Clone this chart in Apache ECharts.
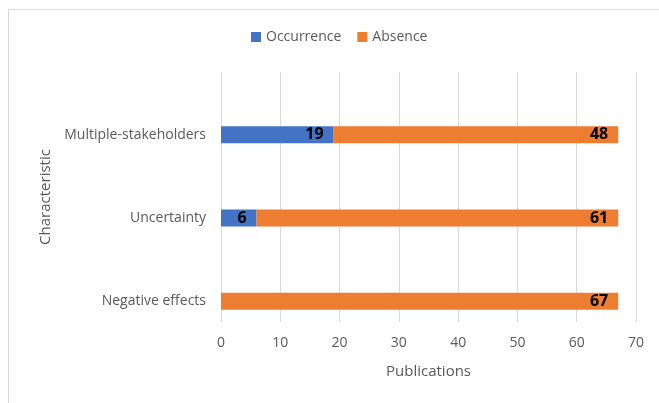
<!DOCTYPE html>
<html lang="en">
<head>
    <meta charset="UTF-8">
    <title>Characteristic publications</title>
    <style>
        html, body { margin: 0; padding: 0; background: #fff; }
        #chart { width: 659px; height: 403px; }
    </style>
</head>
<body>
    <div id="chart"></div>
<script src="https://cdn.jsdelivr.net/npm/echarts@6/dist/echarts.min.js"></script>
<script type="text/javascript">
    // data, bottom to top
    const categories = ['Negative effects', 'Uncertainty', 'Multiple-stakeholders'];
    const occurrence = [0, 6, 19];
    const absence = [67, 61, 48];
    const xTicks = [0, 10, 20, 30, 40, 50, 60, 70];

    const grey = '#595959';
    const font = 'Open Sans, Noto Sans, sans-serif';

    const valLabel = {
        show: true,
        position: 'insideRight',
        distance: 10,
        color: '#000',
        fontWeight: 'bold',
        fontSize: 16,
        fontFamily: font,
        formatter: p => p.value > 0 ? p.value : ''
    };

    let chart = echarts.init(document.getElementById('chart'));
    chart.setOption({
        backgroundColor: '#fff',
        animation: false,
        graphic: [{
            type: 'rect',
            shape: { x: 8.5, y: 9.5, width: 700, height: 450 },
            style: { fill: 'none', stroke: '#d9d9d9', lineWidth: 1 },
            silent: true
        }],
        legend: {
            top: 25,
            left: 246,
            itemWidth: 10,
            itemHeight: 10,
            itemGap: 16,
            icon: 'rect',
            textStyle: { color: grey, fontSize: 14, fontFamily: font },
            data: ['Occurrence', 'Absence']
        },
        grid: [
            // grid holding the gridlines and x axis
            { left: 221, right: 23, top: 72, bottom: 81 },
            // grid holding the bars
            { left: 221, right: 23, top: 93, bottom: 60 }
        ],
        xAxis: [{
            gridIndex: 0,
            type: 'value',
            min: xTicks[0],
            max: xTicks[xTicks.length - 1],
            interval: 10,
            name: 'Publications',
            nameLocation: 'middle',
            nameGap: 42,
            nameTextStyle: { color: grey, fontSize: 15, fontFamily: font },
            axisLine: { show: false },
            axisTick: { show: false },
            axisLabel: { color: grey, fontSize: 14, fontFamily: font, margin: 14 },
            splitLine: { lineStyle: { color: '#d9d9d9', width: 1 } }
        }, {
            gridIndex: 1,
            type: 'value',
            min: 0,
            max: 70,
            show: false
        }],
        yAxis: [{
            gridIndex: 0,
            type: 'category',
            data: [''],
            name: 'Characteristic',
            nameLocation: 'middle',
            nameGap: 168,
            nameTextStyle: { color: grey, fontSize: 15, fontFamily: font },
            axisLine: { show: false },
            axisTick: { show: false },
            axisLabel: { show: false }
        }, {
            gridIndex: 1,
            type: 'category',
            data: categories,
            axisLine: { show: false },
            axisTick: { show: false },
            axisLabel: { color: grey, fontSize: 14, fontFamily: font, margin: 15 }
        }],
        series: [{
            name: 'Occurrence',
            type: 'bar',
            stack: 'total',
            xAxisIndex: 1,
            yAxisIndex: 1,
            barWidth: 17,
            itemStyle: { color: '#4472c4' },
            label: valLabel,
            data: occurrence
        }, {
            name: 'Absence',
            type: 'bar',
            stack: 'total',
            xAxisIndex: 1,
            yAxisIndex: 1,
            barWidth: 17,
            itemStyle: { color: '#ed7d31' },
            label: valLabel,
            data: absence
        }]
    });
</script>
</body>
</html>
